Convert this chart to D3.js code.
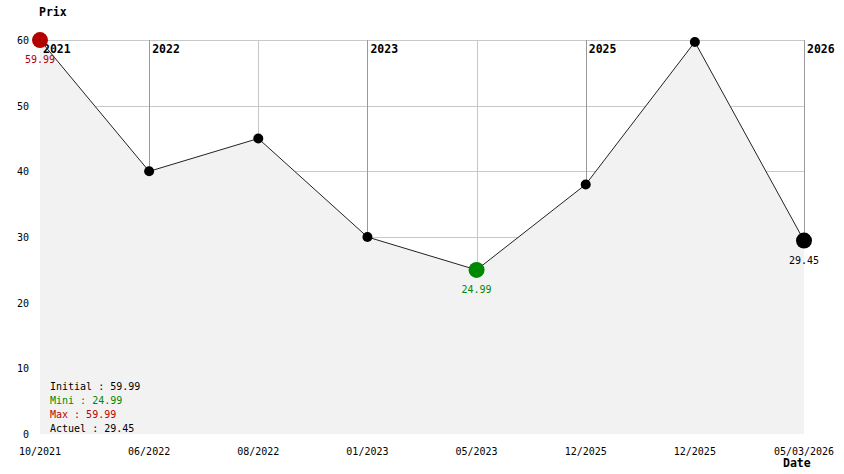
<!DOCTYPE html>
<html>
<head>
<meta charset="utf-8">
<script src="https://cdn.jsdelivr.net/npm/d3@7"></script>
<style>
  body { margin: 0; background: #fff; }
  text { font-family: "DejaVu Sans Mono", monospace; font-size: 10px; }
  .bold { font-weight: bold; font-size: 11.5px; }
</style>
</head>
<body>
<div id="chart"></div>
<script>
// Data
const dates  = ['10/2021', '06/2022', '08/2022', '01/2023', '05/2023', '12/2025', '12/2025', '05/03/2026'];
const prices = [59.99, 40, 45, 30, 24.99, 38, 59.7, 29.45];
const yearMarks = [ {i: 0, year: '2021'}, {i: 1, year: '2022'}, {i: 3, year: '2023'}, {i: 5, year: '2025'}, {i: 7, year: '2026'} ];
const yTicks = [0, 10, 20, 30, 40, 50, 60];
const summary = [
  {label: 'Initial : 59.99', color: '#000'},
  {label: 'Mini : 24.99', color: '#008800'},
  {label: 'Max : 59.99', color: '#c00000'},
  {label: 'Actuel : 29.45', color: '#000'}
];

const width = 844, height = 474;
const plotL = 40, plotR = 804, plotT = 40, plotB = 434;
const red = '#b30000', green = '#008800';

const svg = d3.select('#chart').append('svg')
  .attr('width', width).attr('height', height);

const x = d3.scalePoint().domain(d3.range(dates.length)).range([plotL, plotR]);
const y = d3.scaleLinear().domain([0, 60]).range([plotB, plotT]);

// horizontal grid
svg.selectAll('.hgrid').data(yTicks.filter(d => d > 0)).enter()
  .append('line')
    .attr('x1', plotL).attr('x2', plotR)
    .attr('y1', d => Math.round(y(d)) + 0.5).attr('y2', d => Math.round(y(d)) + 0.5)
    .style('stroke', '#c8c8c8');

// filled area under the line
const area = d3.area()
  .x((d, i) => x(i)).y0(plotB).y1(d => y(d));
svg.append('path')
  .attr('d', area(prices))
  .style('fill', '#f2f2f2');

// vertical grid (down to the curve), darker for year changes
const yearIdx = yearMarks.map(d => d.i);
svg.selectAll('.vgrid').data(d3.range(1, dates.length)).enter()
  .append('line')
    .attr('x1', d => Math.round(x(d)) + 0.5).attr('x2', d => Math.round(x(d)) + 0.5)
    .attr('y1', plotT).attr('y2', d => y(prices[d]))
    .style('stroke', d => yearIdx.includes(d) ? '#999' : '#c8c8c8');

// year labels
svg.selectAll('.year').data(yearMarks).enter()
  .append('text')
    .attr('class', 'bold')
    .attr('x', d => x(d.i) + 3).attr('y', 53)
    .text(d => d.year);

// price line
const line = d3.line().x((d, i) => x(i)).y(d => y(d));
svg.append('path')
  .attr('d', line(prices))
  .style('fill', 'none')
  .style('stroke', '#222')
  .style('stroke-width', 1);

// points
const iMin = prices.indexOf(d3.min(prices));
const iMax = 0; // initial price shown as the max
const iLast = prices.length - 1;
function pointColor(i) {
  if (i === iMax) return red;
  if (i === iMin) return green;
  return '#000';
}
svg.selectAll('.pt').data(prices).enter()
  .append('circle')
    .attr('cx', (d, i) => x(i)).attr('cy', d => y(d))
    .attr('r', (d, i) => (i === iMax || i === iMin || i === iLast) ? 8 : 5)
    .style('fill', (d, i) => pointColor(i));

// value labels below the special points
[iMax, iMin, iLast].forEach(i => {
  svg.append('text')
    .attr('x', x(i)).attr('y', y(prices[i]) + 23)
    .attr('text-anchor', 'middle')
    .style('fill', pointColor(i))
    .text(prices[i].toFixed(2));
});

// y axis labels
svg.selectAll('.ytick').data(yTicks).enter()
  .append('text')
    .attr('x', 29).attr('y', d => y(d) + 4)
    .attr('text-anchor', 'end')
    .text(d => d);

// x axis labels
svg.selectAll('.xtick').data(dates).enter()
  .append('text')
    .attr('x', (d, i) => x(i)).attr('y', 455)
    .attr('text-anchor', 'middle')
    .text(d => d);

// axis titles
svg.append('text').attr('class', 'bold').attr('x', 39).attr('y', 16).text('Prix');
svg.append('text').attr('class', 'bold').attr('x', 783).attr('y', 467).text('Date');

// summary box
svg.selectAll('.summary').data(summary).enter()
  .append('text')
    .attr('x', 50).attr('y', (d, i) => 390 + i * 14)
    .style('fill', d => d.color)
    .text(d => d.label);
</script>
</body>
</html>
